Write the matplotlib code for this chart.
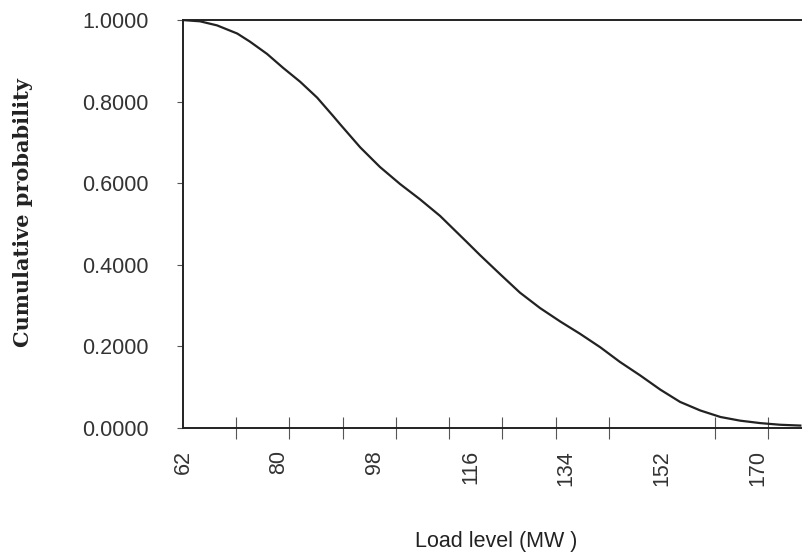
import matplotlib
matplotlib.use("Agg")
import matplotlib.pyplot as plt
import numpy as np
from matplotlib.ticker import MultipleLocator, FormatStrFormatter

# Load duration curve: load level (MW) vs cumulative probability
load_mw = [62, 65.2, 68.4, 72.2, 74.6, 77.8, 80.8, 84.0, 87.2, 90.2,
           91.5, 95.3, 99.0, 102.8, 106.5, 110.3, 115.4, 117.8, 121.6,
           125.3, 129.1, 132.9, 136.6, 140.4, 144.1, 147.9, 151.7, 155.4,
           159.2, 163.0, 166.7, 170.5, 174.2, 178.0]
cum_prob = [1.000, 0.997, 0.987, 0.967, 0.947, 0.917, 0.883, 0.849, 0.810,
            0.765, 0.745, 0.688, 0.640, 0.598, 0.561, 0.520, 0.455, 0.424,
            0.377, 0.332, 0.294, 0.261, 0.231, 0.198, 0.162, 0.129, 0.094,
            0.064, 0.043, 0.027, 0.018, 0.012, 0.008, 0.006]

label_ticks = np.arange(62, 171, 18)
mark_ticks = np.arange(62, 175, 10)

plt.rcParams['font.family'] = ['Liberation Sans', 'DejaVu Sans']

fig = plt.figure(figsize=(8.03, 5.55), dpi=100)
ax = fig.add_axes([0.2279, 0.2288, 0.7721, 0.735])

ax.plot(load_mw, cum_prob, color="#222222", lw=1.6)

ax.set_xlim(62, 178.5)
ax.set_ylim(0, 1)

ax.set_xticks(label_ticks)
ax.set_xticks(mark_ticks, minor=True)
ax.tick_params(axis="x", which="major", length=0, pad=16, labelsize=15.5,
               labelrotation=90, colors="#333333")
ax.tick_params(axis="x", which="minor", direction="inout", length=16,
               width=0.8, color="#555555")

ax.yaxis.set_major_locator(MultipleLocator(0.2))
ax.yaxis.set_major_formatter(FormatStrFormatter("%.4f"))
ax.tick_params(axis="y", which="major", direction="out", length=4,
               width=0.8, pad=21, labelsize=15.5, colors="#555555",
               labelcolor="#333333")

for side in ["left", "bottom", "top"]:
    ax.spines[side].set_linewidth(1.4)
    ax.spines[side].set_color("#222222")
ax.spines["right"].set_visible(False)

ax.set_xlabel("Load level (MW )", fontsize=15.5, color="#222222")
ax.xaxis.set_label_coords(0.505, -0.252)
ax.set_ylabel("Cumulative probability", fontsize=15, fontweight="bold",
              family=["DejaVu Serif"], color="#222222")
ax.yaxis.set_label_coords(-0.242, 0.527)

fig.savefig("out.png", dpi=100)
plt.close(fig)
